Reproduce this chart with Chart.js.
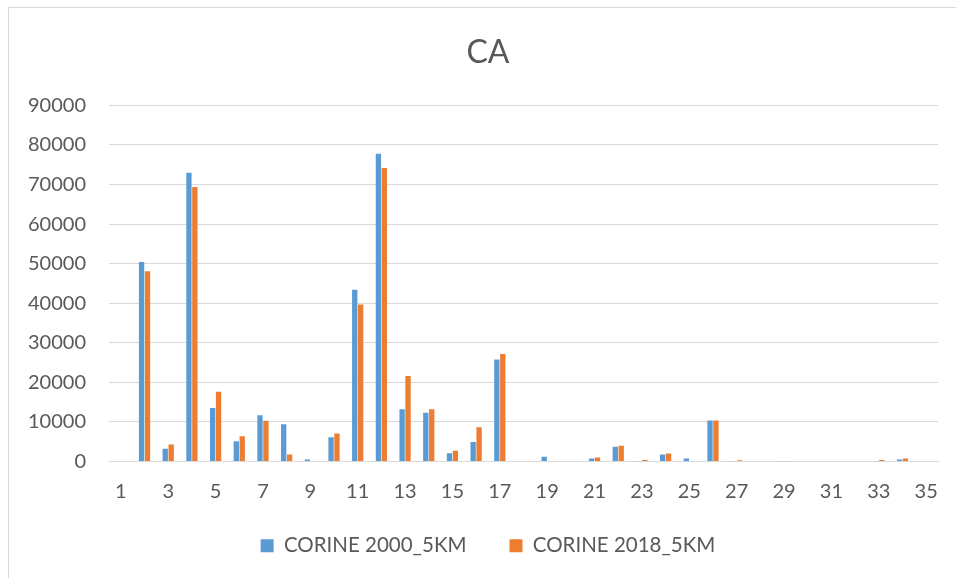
<!DOCTYPE html>
<html>
<head>
<meta charset="utf-8">
<script src="https://cdn.jsdelivr.net/npm/chart.js@4/dist/chart.umd.min.js"></script>
<style>
  html, body { margin: 0; padding: 0; background: #fff; }
  #wrap { position: relative; width: 956px; height: 578px; overflow: hidden; }
  #frame { position: absolute; left: 8px; top: 7px; width: 980px; height: 600px; border: 1px solid #d9d9d9; }
  canvas { position: absolute; left: 0; top: 0; }
</style>
</head>
<body>
<div id="wrap">
  <div id="frame"></div>
  <canvas id="ca" width="956" height="578"></canvas>
</div>
<script>
const categories = ["1","2","3","4","5","6","7","8","9","10","11","12","13","14","15","16","17","18",
  "19","20","21","22","23","24","25","26","27","28","29","30","31","32","33","34","35"];
const corine2000 = [0, 50400, 3200, 73000, 13500, 5100, 11700, 9400, 500, 6100, 43400, 77800,
  13200, 12300, 2100, 4900, 25800, 100, 1200, 100, 750, 3700, 50, 1750, 750, 10350,
  50, 100, 50, 0, 0, 0, 50, 500, 0];
const corine2018 = [0, 48100, 4300, 69400, 17600, 6400, 10300, 1800, 100, 7100, 39700, 74200,
  21600, 13200, 2700, 8650, 27200, 100, 0, 100, 1000, 4000, 400, 2050, 100, 10350,
  300, 100, 50, 0, 0, 0, 400, 750, 0];
const yTicks = [0, 10000, 20000, 30000, 40000, 50000, 60000, 70000, 80000, 90000];

const textColor = "#595959";
const gridColor = "#d9d9d9";

const config = {
  type: "bar",
  data: {
    labels: categories,
    datasets: [
      {
        label: "CORINE 2000_5KM",
        data: corine2000,
        backgroundColor: "#5b9bd5",
        barPercentage: 0.9,
        categoryPercentage: 0.5,
      },
      {
        label: "CORINE 2018_5KM",
        data: corine2018,
        backgroundColor: "#ed7d31",
        barPercentage: 0.9,
        categoryPercentage: 0.5,
      },
    ],
  },
  options: {
    responsive: false,
    animation: false,
    layout: { padding: { left: 20, right: 0, top: 0, bottom: 12 } },
    plugins: {
      tooltip: { enabled: false },
      title: {
        display: true,
        text: "CA",
        color: textColor,
        font: { family: "Lato", size: 32, weight: "normal" },
        padding: { top: 33, bottom: 34 },
      },
      legend: {
        position: "bottom",
        labels: {
          color: textColor,
          font: { family: "Lato", size: 20.5 },
          boxWidth: 13,
          boxHeight: 13,
          padding: 22,
          // a wider gap between the two entries, as in the picture
          generateLabels: function (chart) {
            const items = Chart.defaults.plugins.legend.labels.generateLabels(chart);
            items[0].text += "    ";
            return items;
          },
        },
      },
    },
    scales: {
      x: {
        grid: { display: false },
        border: { display: true, color: gridColor },
        ticks: {
          color: textColor,
          font: { family: "Lato", size: 20 },
          autoSkip: false,
          maxRotation: 0,
          padding: 10,
          callback: function (value, index) {
            return index % 2 === 0 ? categories[index] : "";
          },
        },
      },
      y: {
        min: 0,
        max: 90000,
        afterBuildTicks: function (scale) {
          scale.ticks = yTicks.map((v) => ({ value: v }));
        },
        afterFit: function (scale) {
          scale.width = 89;
        },
        grid: { color: gridColor, drawTicks: false },
        border: { display: false },
        ticks: {
          color: textColor,
          font: { family: "Lato", size: 20 },
          padding: 23,
          callback: function (value) {
            return String(value);
          },
        },
      },
      // empty right-hand strip so the title and legend sit where they do in the picture
      spacer: {
        type: "linear",
        position: "right",
        min: 0,
        max: 1,
        grid: { display: false },
        border: { display: false },
        ticks: { display: false },
        afterFit: function (scale) {
          scale.width = 18;
        },
      },
    },
  },
};

new Chart(document.getElementById("ca"), config);
</script>
</body>
</html>
